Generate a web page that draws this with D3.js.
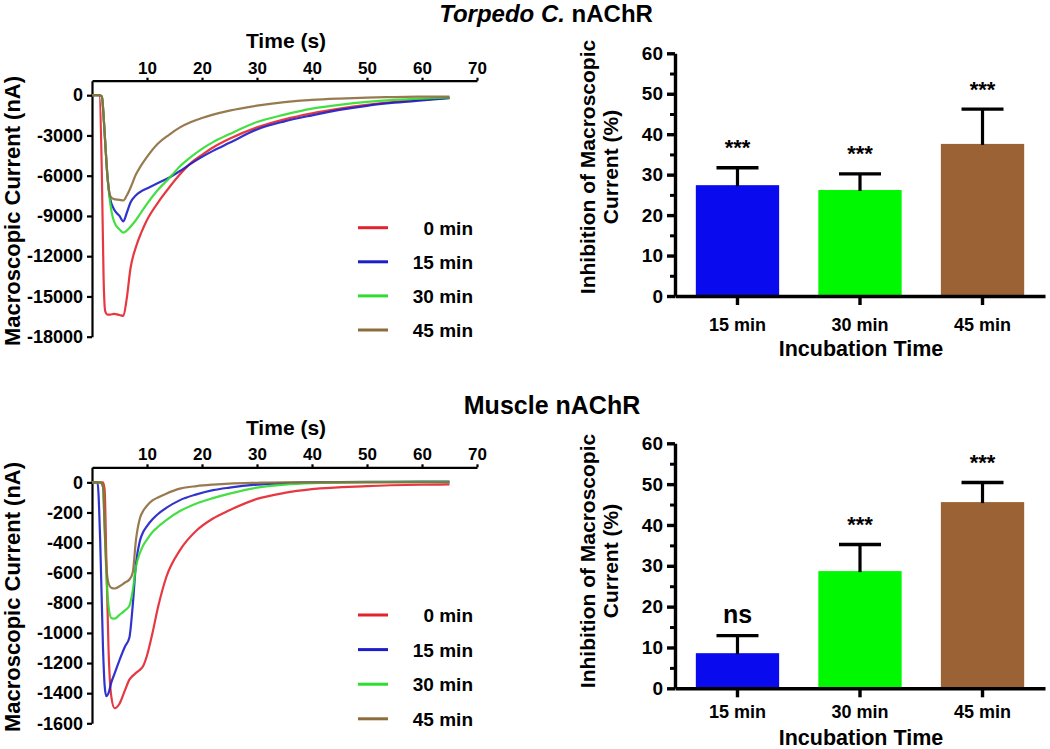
<!DOCTYPE html>
<html><head><meta charset="utf-8">
<script src="https://cdn.jsdelivr.net/npm/d3@7"></script>
<style>
body{margin:0;background:#fff;}
svg{display:block;font-family:"Liberation Sans",Arial,Helvetica,sans-serif;font-weight:bold;}
</style></head><body>
<svg id="chart" width="1050" height="749"></svg>
<script>
// ---------- DATA ----------
const seriesNames = ["0 min", "15 min", "30 min", "45 min"];
const seriesColors = ["#e3222c", "#1c1cc8", "#2fdc2f", "#8c6c3c"];
const timeTicks = [10, 20, 30, 40, 50, 60, 70];

// Torpedo C. nAChR traces (time in s, current in nA)
const torpedoTime = [0, 1.3, 1.8, 2.1, 2.4, 2.8, 3.3, 4, 5, 5.7, 6.3, 7, 8, 9, 10, 12, 14, 16, 18, 20, 22, 25, 30, 35, 40, 45, 50, 55, 60, 65];
const torpedo0  = [0, 0, -6000, -13500, -16100, -16350, -16350, -16300, -16380, -16450, -15200, -12900, -11300, -10200, -9300, -8000, -6900, -5900, -5050, -4450, -3900, -3250, -2400, -1800, -1350, -1000, -720, -500, -330, -200];
const torpedo15 = [0, 0, -100, -1500, -3500, -6000, -7700, -8500, -9000, -9400, -8800, -8000, -7450, -7150, -6950, -6550, -6150, -5650, -5100, -4600, -4150, -3550, -2550, -1950, -1500, -1100, -790, -560, -380, -220];
const torpedo30 = [0, 0, -100, -1500, -3500, -6000, -8000, -9400, -10000, -10250, -10100, -9800, -9300, -8700, -8100, -7050, -6200, -5300, -4600, -4000, -3500, -2900, -2000, -1450, -1000, -720, -500, -350, -250, -180];
const torpedo45 = [0, 0, -100, -1500, -3500, -6000, -7500, -7750, -7800, -7850, -7500, -6900, -5900, -5200, -4600, -3600, -2950, -2400, -2000, -1700, -1450, -1150, -780, -520, -350, -250, -180, -140, -110, -100];
const torpedoYTicks = [0, -3000, -6000, -9000, -12000, -15000, -18000];

// Muscle nAChR traces
const muscleTime = [0, 1, 1.5, 2, 2.3, 2.6, 3, 3.5, 4.1, 5, 6, 6.8, 7.4, 8, 8.7, 9.3, 10, 11, 12, 13.5, 16, 19, 22, 25, 30, 35, 40, 50, 60, 65];
const muscle0  = [0, 0, 0, 0, -50, -500, -1100, -1420, -1500, -1470, -1380, -1310, -1285, -1265, -1245, -1220, -1150, -1000, -830, -630, -450, -320, -240, -185, -110, -70, -45, -25, -16, -14];
const muscle15 = [0, 0, -400, -1100, -1350, -1420, -1400, -1330, -1270, -1180, -1090, -1030, -820, -540, -390, -330, -290, -245, -210, -170, -118, -80, -52, -35, -15, -5, 0, 3, 5, 5];
const muscle30 = [0, 0, 0, -30, -300, -600, -820, -900, -905, -880, -850, -820, -720, -560, -470, -420, -380, -330, -295, -250, -190, -140, -105, -75, -35, -15, -5, 2, 4, 4];
const muscle45 = [0, 0, 0, -30, -300, -550, -670, -700, -705, -690, -665, -645, -600, -380, -240, -190, -155, -120, -100, -75, -42, -25, -15, -8, -3, 0, 0, 0, 0, 0];
const muscleYTicks = [0, -200, -400, -600, -800, -1000, -1200, -1400, -1600];

// Bar charts: inhibition of macroscopic current (%)
const barCategories = ["15 min", "30 min", "45 min"];
const barColors = ["#0a0aee", "#00f800", "#9a6235"];
const torpedoMean = [27.4, 26.2, 37.6];
const torpedoSem  = [4.3, 4.0, 8.6];
const torpedoSig  = ["***", "***", "***"];
const muscleMean  = [8.6, 28.7, 45.6];
const muscleSem   = [4.3, 6.5, 4.8];
const muscleSig   = ["ns", "***", "***"];
const barMajorTicks = [0, 10, 20, 30, 40, 50, 60];
const barMinorTicks = [5, 15, 25, 35, 45, 55];

// ---------- DRAW ----------
const svg = d3.select("#chart");

function styleAxis(g, sw, fs) {
  g.selectAll(".domain").attr("stroke", "#000").attr("stroke-width", sw);
  g.selectAll(".tick line").attr("stroke", "#000").attr("stroke-width", sw);
  g.selectAll(".tick text").attr("fill", "#000").style("font-size", fs + "px").style("font-weight", "bold")
    .style("font-family", '"Liberation Sans",Arial,sans-serif');
}

function drawTrace(cfg) {
  const x = d3.scaleLinear().domain([0, 70]).range([92, 477]);
  const y = d3.scaleLinear().domain(cfg.yDomain).range([cfg.yBottom, cfg.yTop]);
  const g = svg.append("g");

  const gx = g.append("g").attr("transform", `translate(0,${cfg.yTop})`)
    .call(d3.axisTop(x).tickValues(timeTicks).tickSize(3).tickPadding(4).tickSizeOuter(0));
  styleAxis(gx, 2.2, 17);
  const gy = g.append("g").attr("transform", `translate(92,0)`)
    .call(d3.axisLeft(y).tickValues(cfg.yTicks).tickFormat(d => String(d)).tickSize(5).tickPadding(4).tickSizeOuter(0));
  styleAxis(gy, 2.2, 18);

  const line = d3.line().x(d => x(d[0])).y(d => y(d[1])).curve(d3.curveMonotoneX);
  cfg.series.forEach((vals, i) => {
    const pts = cfg.time.map((t, k) => [t, vals[k]]);
    g.append("path").datum(pts).attr("d", line).attr("fill", "none")
      .attr("stroke", seriesColors[i]).attr("stroke-width", 2.2).attr("stroke-opacity", 0.9)
      .attr("stroke-linejoin", "round");
  });

  g.append("text").attr("x", 286).attr("y", cfg.titleY).attr("text-anchor", "middle")
    .style("font-size", "21px").text("Time (s)");
  g.append("text").attr("transform", `translate(20,${cfg.yLabelY}) rotate(-90)`).attr("text-anchor", "middle")
    .style("font-size", "22px").text("Macroscopic Current (nA)");

  // legend
  const leg = g.append("g");
  seriesNames.forEach((n, i) => {
    const ly = cfg.legendY + i * cfg.legendStep;
    leg.append("line").attr("x1", 358).attr("x2", 388).attr("y1", ly).attr("y2", ly)
      .attr("stroke", seriesColors[i]).attr("stroke-width", 3);
    leg.append("text").attr("x", 473).attr("y", ly + 7).attr("text-anchor", "end")
      .style("font-size", "19px").text(n);
  });
}

function drawBars(cfg) {
  const x = d3.scaleBand().domain(barCategories).range([675, 1045]).paddingInner(0.32).paddingOuter(0.17);
  const y = d3.scaleLinear().domain([0, 60]).range([cfg.y0, cfg.y60]);
  const g = svg.append("g");

  g.selectAll("rect.bar").data(cfg.mean).join("rect").attr("class", "bar")
    .attr("x", (d, i) => x(barCategories[i])).attr("y", d => y(d))
    .attr("width", x.bandwidth()).attr("height", d => y(0) - y(d))
    .attr("fill", (d, i) => barColors[i]);

  cfg.mean.forEach((m, i) => {
    const cx = x(barCategories[i]) + x.bandwidth() / 2;
    const top = y(m + cfg.sem[i]);
    g.append("line").attr("x1", cx).attr("x2", cx).attr("y1", y(m) + 1).attr("y2", top)
      .attr("stroke", "#000").attr("stroke-width", 3.2);
    g.append("line").attr("x1", cx - 21).attr("x2", cx + 21).attr("y1", top).attr("y2", top)
      .attr("stroke", "#000").attr("stroke-width", 3.4);
    const s = cfg.sig[i];
    g.append("text").attr("x", cx).attr("y", top - 12.5).attr("text-anchor", "middle")
      .style("font-size", s === "ns" ? "25px" : "22px").text(s);
  });

  const gy = g.append("g").attr("transform", "translate(675,0)")
    .call(d3.axisLeft(y).tickValues(barMajorTicks).tickSize(8).tickPadding(4).tickSizeOuter(0));
  styleAxis(gy, 3.4, 19);
  const gm = g.append("g").attr("transform", "translate(675,0)")
    .call(d3.axisLeft(y).tickValues(barMinorTicks).tickSize(5).tickFormat("").tickSizeOuter(0));
  gm.select(".domain").remove();
  styleAxis(gm, 3, 19);
  const gx = g.append("g").attr("transform", `translate(0,${cfg.y0})`)
    .call(d3.axisBottom(x).tickSize(9).tickPadding(cfg.xPad).tickSizeOuter(0));
  styleAxis(gx, 3.4, 18);

  g.append("text").attr("x", 861).attr("y", cfg.xTitleY).attr("text-anchor", "middle")
    .style("font-size", "21.5px").text("Incubation Time");
  const yl = g.append("g");
  yl.append("text").attr("transform", `translate(595,${cfg.yLabelY}) rotate(-90)`).attr("text-anchor", "middle")
    .style("font-size", "21px").text("Inhibition of Macroscopic");
  yl.append("text").attr("transform", `translate(618,${cfg.yLabelY}) rotate(-90)`).attr("text-anchor", "middle")
    .style("font-size", "21px").text("Current (%)");
}

// Titles
const t1 = svg.append("text").attr("x", 546).attr("y", 22).attr("text-anchor", "middle").style("font-size", "24px");
t1.append("tspan").style("font-style", "italic").text("Torpedo C.");
t1.append("tspan").text(" nAChR");
svg.append("text").attr("x", 552).attr("y", 414).attr("text-anchor", "middle").style("font-size", "25px").text("Muscle nAChR");

drawTrace({
  time: torpedoTime, series: [torpedo0, torpedo15, torpedo30, torpedo45],
  yDomain: [-18000, 1080], yTop: 80.7, yBottom: 336.7, yTicks: torpedoYTicks,
  titleY: 47.5, yLabelY: 211, legendY: 227.7, legendStep: 34.1
});
drawTrace({
  time: muscleTime, series: [muscle0, muscle15, muscle30, muscle45],
  yDomain: [-1600, 100], yTop: 467.3, yBottom: 723.3, yTicks: muscleYTicks,
  titleY: 435, yLabelY: 597, legendY: 615, legendStep: 34.6
});
drawBars({ mean: torpedoMean, sem: torpedoSem, sig: torpedoSig, y0: 296, y60: 53.3, xPad: 13, xTitleY: 356, yLabelY: 167 });
drawBars({ mean: muscleMean, sem: muscleSem, sig: muscleSig, y0: 688.3, y60: 443.3, xPad: 8, xTitleY: 744.5, yLabelY: 561 });
</script>
</body></html>
